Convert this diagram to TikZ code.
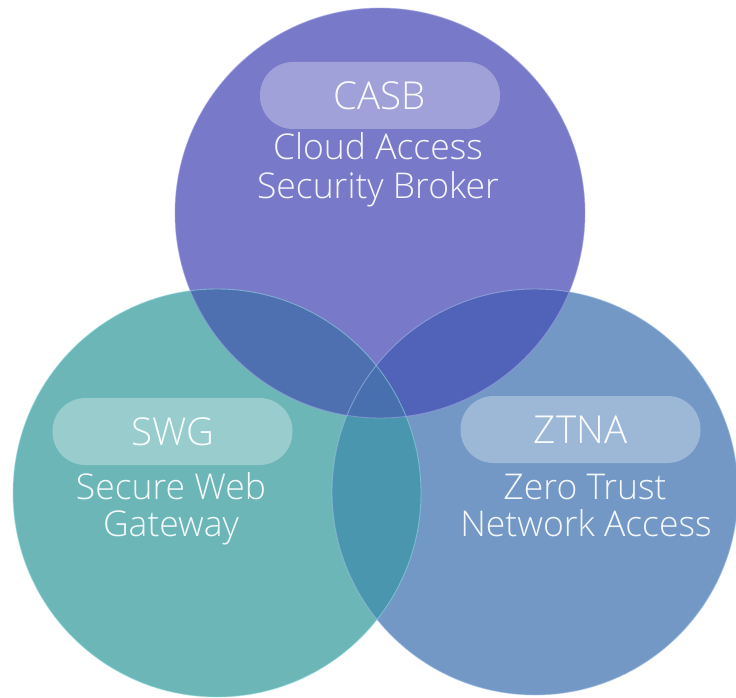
\documentclass[tikz,border=0pt]{standalone}
\usepackage{fontspec}
\setmainfont{Open Sans Light}

% fills of the three sets and their overlaps
\definecolor{casbFill}{HTML}{7879C9}
\definecolor{swgFill}{HTML}{6CB6B8}
\definecolor{ztnaFill}{HTML}{7398C6}
\definecolor{casbSwg}{HTML}{4E70B0}
\definecolor{casbZtna}{HTML}{5163B8}
\definecolor{swgZtna}{HTML}{4A96AE}
\definecolor{allThree}{HTML}{4870AF}
% rim highlights
\definecolor{casbRim}{HTML}{A4A6E6}
\definecolor{swgRim}{HTML}{95DCE0}
\definecolor{ztnaRim}{HTML}{A8C4E8}

\tikzset{
  pill/.style={rounded corners=33pt, minimum width=240pt, minimum height=67pt,
    fill=white, fill opacity=0.3, text opacity=0.95, text=white,
    inner sep=0pt, font=\fontsize{38.5}{40}\selectfont},
  desc/.style={anchor=base, text=white, text opacity=0.93, inner sep=0pt,
    font=\fontsize{35.5}{38}\selectfont},
  rim/.style={line width=0.9pt, draw opacity=0.55}
}

\begin{document}
\begin{tikzpicture}[x=1pt, y=-1pt]
  \useasboundingbox (0,0) rectangle (736,698);

  \coordinate (cC) at (380,213);
  \coordinate (cS) at (217,493);
  \coordinate (cZ) at (535,492);
  \def\rC{205pt}
  \def\rS{204pt}
  \def\rZ{203pt}

  % single sets
  \fill[swgFill]  (cS) circle[radius=\rS];
  \fill[ztnaFill] (cZ) circle[radius=\rZ];
  \fill[casbFill] (cC) circle[radius=\rC];

  % pairwise overlaps
  \begin{scope}
    \clip (cC) circle[radius=\rC];
    \fill[casbSwg] (cS) circle[radius=\rS];
    \fill[casbZtna] (cZ) circle[radius=\rZ];
  \end{scope}
  \begin{scope}
    \clip (cS) circle[radius=\rS];
    \fill[swgZtna] (cZ) circle[radius=\rZ];
    \clip (cZ) circle[radius=\rZ];
    \fill[allThree] (cC) circle[radius=\rC];
  \end{scope}

  % rims
  \draw[rim, swgRim]  (cS) circle[radius=\rS];
  \draw[rim, ztnaRim] (cZ) circle[radius=\rZ];
  \draw[rim, casbRim] (cC) circle[radius=\rC];

  % labels
  \node[pill] (casbTag) at (380,95.5) {CASB};
  \node[desc] (casbL1) at (378,160) {Cloud Access};
  \node[desc] (casbL2) at (378,198) {Security Broker};

  \node[pill] (swgTag) at (172.5,431.5) {SWG};
  \node[desc] (swgL1) at (171,499) {Secure Web};
  \node[desc] (swgL2) at (171,536) {Gateway};

  \node[pill] (ztnaTag) at (580.5,429.5) {ZTNA};
  \node[desc] (ztnaL1) at (585,499) {Zero Trust};
  \node[desc] (ztnaL2) at (586,536) {Network Access};
\end{tikzpicture}
\end{document}
